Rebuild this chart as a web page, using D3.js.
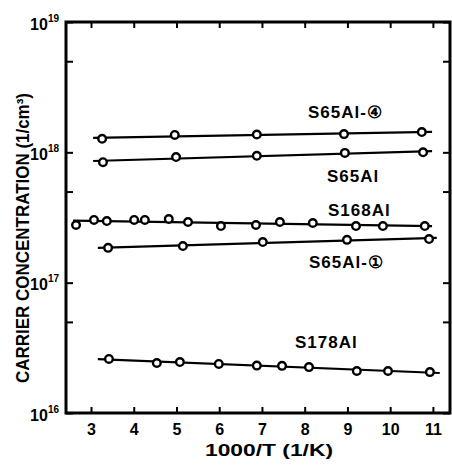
<!DOCTYPE html>
<html>
<head>
<meta charset="utf-8">
<script src="https://cdn.jsdelivr.net/npm/d3@7"></script>
<style>
  body { margin: 0; background: #fff; }
  text { font-family: "Liberation Sans", Arial, sans-serif; font-weight: bold; fill: #000; }
</style>
</head>
<body>
<script>
// series names
const seriesNames = ["S65Al-\u2463", "S65Al", "S168Al", "S65Al-\u2460", "S178Al"];

// 1000/T values (1/K) for each series
const s65al4X = [3.26, 4.96, 6.88, 8.92, 10.74];
const s65alX = [3.28, 4.99, 6.88, 8.94, 10.77];
const s168alX = [2.65, 3.07, 3.37, 4.01, 4.26, 4.82, 5.27, 6.04, 6.86, 7.42, 8.19, 9.20, 9.83, 10.81];
const s65al1X = [3.40, 5.15, 7.02, 8.99, 10.91];
const s178alX = [3.42, 4.54, 5.08, 5.99, 6.88, 7.47, 8.10, 9.22, 9.95, 10.93];

// carrier concentration (1/cm3)
const s65al4Y = [1.27e18, 1.36e18, 1.37e18, 1.38e18, 1.43e18];
const s65alY = [8.4e17, 9.2e17, 9.4e17, 9.9e17, 1.0e18];
const s168alY = [2.77e17, 3.03e17, 2.97e17, 3.03e17, 3.03e17, 3.08e17, 2.92e17, 2.72e17, 2.77e17, 2.92e17, 2.87e17, 2.72e17, 2.72e17, 2.72e17];
const s65al1Y = [1.85e17, 1.91e17, 2.05e17, 2.13e17, 2.16e17];
const s178alY = [2.6e16, 2.42e16, 2.46e16, 2.38e16, 2.31e16, 2.30e16, 2.25e16, 2.10e16, 2.10e16, 2.06e16];

// range of the drawn fit line (1000/T)
const lineFrom = [3.05, 3.05, 2.58, 3.16, 3.16];
const lineTo = [10.98, 10.98, 10.98, 11.09, 11.16];

// axis ticks
const xTicks = [3, 4, 5, 6, 7, 8, 9, 10, 11];
const yTicks = [1e16, 5e16, 1e17, 5e17, 1e18, 5e18, 1e19];

const width = 452;
const height = 467;
const margin = { top: 22, right: 2, bottom: 54, left: 66 };
const chartWidth = width - margin.left - margin.right;
const chartHeight = height - margin.top - margin.bottom;

// label positions in pixels (relative to chart origin)
const labelPos = [
    { x: 242, y: 96 }, { x: 261, y: 160 }, { x: 262, y: 194 }, { x: 243, y: 246 }, { x: 229, y: 326 }
];

const xs = [s65al4X, s65alX, s168alX, s65al1X, s178alX];
const ys = [s65al4Y, s65alY, s168alY, s65al1Y, s178alY];

const svg = d3.select('body')
    .append('svg')
    .attr('width', width)
    .attr('height', height);

const g = svg.append('g')
    .attr('transform', `translate(${margin.left}, ${margin.top})`);

const xScale = d3.scaleLinear()
    .domain([2.415, 11.4])
    .range([0, chartWidth]);

const yScale = d3.scaleLog()
    .domain([1e16, 1e19])
    .range([chartHeight, 0]);

// bottom axis
const xAxis = g.append('g')
    .attr('transform', `translate(0, ${chartHeight})`)
    .call(d3.axisBottom(xScale).tickValues(xTicks).tickSize(-6).tickSizeOuter(0).tickPadding(11));
xAxis.select('.domain').remove();
xAxis.selectAll('line').attr('stroke-width', 2);
xAxis.selectAll('text').attr('font-size', 16);

// top axis (ticks only)
const xTop = g.append('g')
    .call(d3.axisTop(xScale).tickValues(xTicks).tickSize(-6).tickSizeOuter(0).tickFormat(''));
xTop.select('.domain').remove();
xTop.selectAll('line').attr('stroke-width', 2);

// left axis
const yAxis = g.append('g')
    .call(d3.axisLeft(yScale).tickValues(yTicks).tickSize(-7).tickSizeOuter(0).tickPadding(7)
        .tickFormat(d => Number.isInteger(Math.log10(d)) ? String(Math.round(Math.log10(d))) : ''));
yAxis.select('.domain').remove();
yAxis.selectAll('line').attr('stroke-width', 2);
yAxis.selectAll('text')
    .attr('font-size', 16)
    .attr('dy', '0.45em')
    .each(function () {
        const t = d3.select(this);
        const p = t.text();
        if (!p) return;
        t.text('10');
        t.append('tspan').attr('font-size', 10).attr('dy', -8).text(p);
    });

// right axis (ticks only)
const yRight = g.append('g')
    .attr('transform', `translate(${chartWidth}, 0)`)
    .call(d3.axisRight(yScale).tickValues(yTicks).tickSize(-7).tickSizeOuter(0).tickFormat(''));
yRight.select('.domain').remove();
yRight.selectAll('line').attr('stroke-width', 2);

// frame
g.append('rect')
    .attr('x', 0)
    .attr('y', 0)
    .attr('width', chartWidth)
    .attr('height', chartHeight)
    .attr('fill', 'none')
    .attr('stroke', '#000')
    .attr('stroke-width', 3);

// series
const line = d3.line()
    .x(d => xScale(d[0]))
    .y(d => yScale(d[1]));

seriesNames.forEach((name, i) => {
    const pts = xs[i].map((x, j) => [x, ys[i][j]]);
    // least squares fit in log space
    const mx = d3.mean(pts, d => d[0]);
    const my = d3.mean(pts, d => Math.log10(d[1]));
    const sxy = d3.sum(pts, d => (d[0] - mx) * (Math.log10(d[1]) - my));
    const sxx = d3.sum(pts, d => (d[0] - mx) * (d[0] - mx));
    const slope = sxy / sxx;
    const fit = x => Math.pow(10, my + slope * (x - mx));

    g.append('path')
        .datum([[lineFrom[i], fit(lineFrom[i])], [lineTo[i], fit(lineTo[i])]])
        .attr('fill', 'none')
        .attr('stroke', '#000')
        .attr('stroke-width', 2.2)
        .attr('d', line);

    g.selectAll(null)
        .data(pts)
        .enter()
        .append('circle')
        .attr('cx', d => xScale(d[0]))
        .attr('cy', d => yScale(d[1]))
        .attr('r', 3.8)
        .attr('fill', '#fff')
        .attr('stroke', '#000')
        .attr('stroke-width', 2.4);

    g.append('text')
        .attr('x', labelPos[i].x)
        .attr('y', labelPos[i].y)
        .attr('font-size', 17)
        .attr('letter-spacing', 1)
        .text(name);
});

// axis titles
svg.append('text')
    .attr('x', 269)
    .attr('y', 456)
    .attr('text-anchor', 'middle')
    .attr('font-size', 17)
    .attr('textLength', 128)
    .attr('lengthAdjust', 'spacingAndGlyphs')
    .text('1000/T (1/K)');

svg.append('text')
    .attr('transform', 'translate(29, 238) rotate(-90)')
    .attr('text-anchor', 'middle')
    .attr('font-size', 18)
    .attr('textLength', 290)
    .attr('lengthAdjust', 'spacingAndGlyphs')
    .text('CARRIER CONCENTRATION (1/cm\u00b3)');
</script>
</body>
</html>
